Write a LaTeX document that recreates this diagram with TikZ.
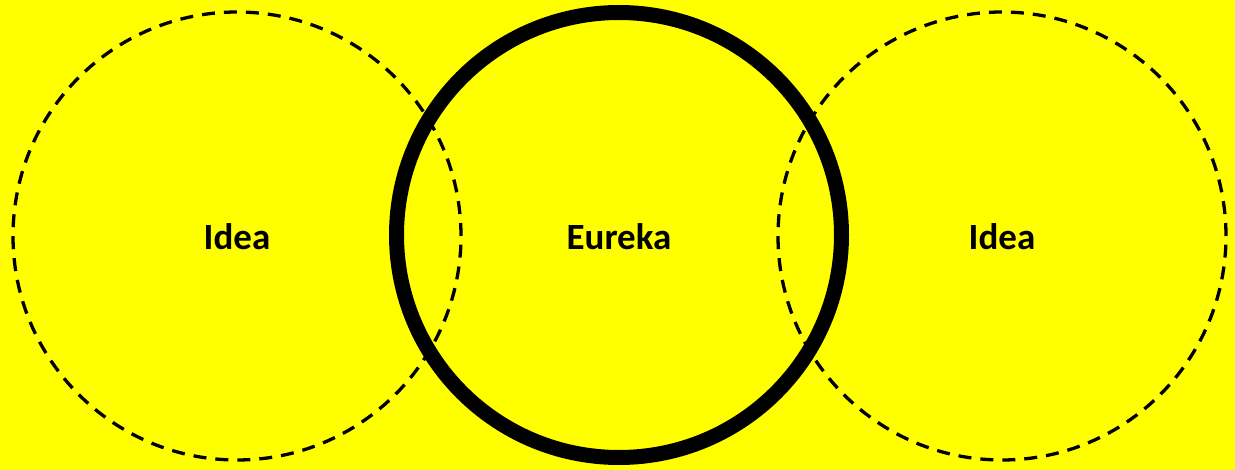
\documentclass[tikz,border=0pt]{standalone}
\usepackage{fontspec}
\setsansfont{Carlito}
\usepackage{xcolor}
\usepackage{tikz}
\definecolor{CBack}{HTML}{FFFF00}
\definecolor{CInk}{HTML}{000000}

\begin{document}
\begin{tikzpicture}[x=1pt, y=-1pt,
  idea/.style={draw=CInk, dash pattern=on 13pt off 9pt, line width=3.3pt, circle, minimum size=448pt, inner sep=0pt},
  eureka/.style={draw=CInk, line width=15pt, circle, minimum size=445pt, inner sep=0pt},
  label/.style={font=\sffamily\bfseries\fontsize{37}{40}\selectfont, text=CInk}]
\fill[CBack] (0,0) rectangle (1235,470);
\useasboundingbox (0,0) rectangle (1235,470);
\node[idea] (left) at (237,236) {};
\node[idea] (right) at (1002,236) {};
\node[eureka] (mid) at (619,235) {};
\node[label] (lefttext) at (237,237) {Idea};
\node[label] (midtext) at (619,237) {Eureka};
\node[label] (righttext) at (1002,237) {Idea};
\end{tikzpicture}
\end{document}
